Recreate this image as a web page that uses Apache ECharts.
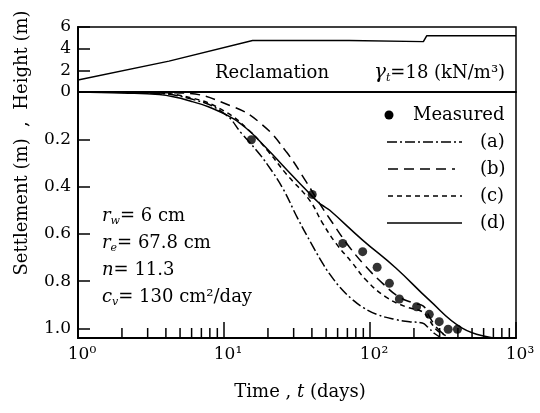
<!DOCTYPE html>
<html>
<head>
<meta charset="utf-8">
<script src="https://cdn.jsdelivr.net/npm/echarts@6/dist/echarts.min.js"></script>
<style>
  html, body { margin: 0; padding: 0; background: #fff; }
  #chart { width: 540px; height: 413px; }
</style>
</head>
<body>
<div id="chart"></div>
<script>
const FONT = "DejaVu Serif";

// top panel: fill height (m)
const heightT = [1, 4.2, 15.7, 72, 232, 245, 1000];
const heightH = [1.1, 2.85, 4.75, 4.75, 4.65, 5.2, 5.2];

// measured settlement (m)
const measuredT = [15.4, 40.2, 65.1, 89.1, 111.9, 135.8, 158.9, 208.5, 254.7, 298, 343, 397];
const measuredS = [0.202, 0.433, 0.64, 0.675, 0.741, 0.809, 0.875, 0.908, 0.94, 0.971, 1.003, 1.003];

// computed curves
const aT = [1, 3, 6, 10, 13.4, 16.6, 20, 25.2, 31.9, 40, 48, 56, 65, 76, 90, 111, 150, 186, 228, 250, 275, 300];
const aS = [0, 0.004, 0.03, 0.09, 0.18, 0.245, 0.31, 0.406, 0.533, 0.645, 0.73, 0.79, 0.838, 0.878, 0.912, 0.94, 0.962, 0.971, 0.977, 0.995, 1.02, 1.035];
const bT = [1, 5, 11.5, 18.4, 26.8, 36.6, 45, 55.6, 72, 94, 122, 158, 200, 232, 255, 290, 330];
const bS = [0, 0.004, 0.062, 0.14, 0.254, 0.38, 0.47, 0.555, 0.654, 0.739, 0.809, 0.866, 0.893, 0.905, 0.95, 1.0, 1.03];
const cT = [1, 3, 6, 10, 15, 20, 27, 38.5, 47.4, 58.5, 76, 94, 128, 176, 230, 255, 285, 330];
const cS = [0, 0.003, 0.025, 0.08, 0.165, 0.25, 0.35, 0.457, 0.555, 0.64, 0.724, 0.795, 0.866, 0.908, 0.93, 0.965, 1.005, 1.03];
const dT = [1, 2, 3.6, 6, 9.8, 14, 19.5, 27, 36, 44, 48.7, 52.8, 89, 151, 255, 428, 700];
const dS = [0, 0.004, 0.011, 0.04, 0.089, 0.15, 0.237, 0.33, 0.41, 0.465, 0.485, 0.499, 0.626, 0.745, 0.88, 0.998, 1.04];

// axis ticks
const heightTicks = [0, 2, 4, 6];
const settleTicks = [0, 0.2, 0.4, 0.6, 0.8, 1.0];
const minorTicks = [2, 3, 4, 5, 6, 7, 8, 9, 20, 30, 40, 50, 60, 70, 80, 90, 200, 300, 400, 500, 600, 700, 800, 900];
const SUP = ["⁰", "¹", "²", "³"];
const SETTLE_MAX = 1.04;

const pairs = (xs, ys) => xs.map((x, i) => [x, ys[i]]);

const curve = (name, xs, ys, dash) => ({
  name: name,
  type: "line",
  xAxisIndex: 1,
  yAxisIndex: 1,
  data: pairs(xs, ys),
  showSymbol: false,
  smooth: 0.45,
  lineStyle: { color: "#000", width: 1.5, type: dash },
  z: 3,
});

const chart = echarts.init(document.getElementById("chart"));

const option = {
  animation: false,
  backgroundColor: "#fff",
  textStyle: { fontFamily: FONT, color: "#000" },
  grid: [
    { left: 78, top: 27, width: 438, height: 65, show: true, borderColor: "#000", borderWidth: 1.5 },
    { left: 78, top: 92, width: 438, height: 246, show: true, borderColor: "#000", borderWidth: 1.5 },
  ],
  xAxis: [
    {
      gridIndex: 0, type: "log", logBase: 10, min: 1, max: 1000,
      axisLine: { onZero: false, lineStyle: { color: "#000", width: 1.5 } },
      axisTick: { show: false }, axisLabel: { show: false }, splitLine: { show: false },
    },
    {
      gridIndex: 1, type: "log", logBase: 10, min: 1, max: 1000,
      axisLine: { onZero: false, lineStyle: { color: "#000", width: 2 } },
      axisTick: { inside: true, length: 16, lineStyle: { color: "#000", width: 1.5 } },
      axisLabel: {
        color: "#000", fontFamily: FONT, fontSize: 17, margin: 8,
        padding: [0, 0, 0, 8],
        formatter: (v) => "10" + SUP[Math.round(Math.log10(v))],
      },
      splitLine: { show: false },
    },
  ],
  yAxis: [
    {
      gridIndex: 0, type: "value", min: heightTicks[0], max: heightTicks[heightTicks.length - 1], interval: 2,
      axisLine: { onZero: false, lineStyle: { color: "#000", width: 2 } },
      axisTick: { inside: true, length: 12, lineStyle: { color: "#000", width: 1.5 } },
      axisLabel: { color: "#000", fontFamily: FONT, fontSize: 17, margin: 7, showMinLabel: false },
      splitLine: { show: false },
    },
    {
      gridIndex: 1, type: "value", inverse: true, min: settleTicks[0], max: SETTLE_MAX, interval: 0.2,
      axisLine: { onZero: false, lineStyle: { color: "#000", width: 2 } },
      axisTick: { inside: true, length: 12, lineStyle: { color: "#000", width: 1.5 } },
      axisLabel: {
        color: "#000", fontFamily: FONT, fontSize: 17, margin: 7, showMaxLabel: false,
        formatter: (v) => (settleTicks.some((t) => Math.abs(t - v) < 1e-6) ? (v === 0 ? "0" : v.toFixed(1)) : ""),
      },
      splitLine: { show: false },
    },
  ],
  series: [
    {
      name: "Height",
      type: "line",
      xAxisIndex: 0,
      yAxisIndex: 0,
      data: pairs(heightT, heightH),
      showSymbol: false,
      lineStyle: { color: "#000", width: 1.5 },
    },
    curve("(a)", aT, aS, [10, 3, 2, 3]),
    curve("(b)", bT, bS, [10, 6]),
    curve("(c)", cT, cS, [5, 4]),
    curve("(d)", dT, dS, "solid"),
    {
      name: "Measured",
      type: "scatter",
      xAxisIndex: 1,
      yAxisIndex: 1,
      data: pairs(measuredT, measuredS),
      symbol: "circle",
      symbolSize: 9,
      itemStyle: { color: "#000" },
      z: 5,
    },
    {
      name: "minor ticks",
      type: "custom",
      xAxisIndex: 1,
      yAxisIndex: 1,
      data: minorTicks.map((v) => [v, SETTLE_MAX]),
      renderItem: (params, api) => {
        const p = api.coord([api.value(0), api.value(1)]);
        return {
          type: "line",
          shape: { x1: p[0], y1: p[1], x2: p[0], y2: p[1] - 10 },
          style: { stroke: "#000", lineWidth: 1.5 },
        };
      },
      silent: true,
    },
  ],
  graphic: [
    {
      type: "text", x: 22, y: 143, rotation: Math.PI / 2,
      style: { text: "Settlement (m)  ,  Height (m)", fontFamily: FONT, fontSize: 18, fill: "#000", align: "center", verticalAlign: "middle" },
    },
    {
      type: "text", x: 300, y: 392,
      style: {
        text: "{n|Time , }{i|t}{n| (days)}",
        align: "center", verticalAlign: "middle",
        rich: {
          n: { fontFamily: FONT, fontSize: 18, fill: "#000" },
          i: { fontFamily: FONT, fontSize: 18, fontStyle: "italic", fill: "#000" },
        },
      },
    },
    {
      type: "text", x: 272, y: 73,
      style: { text: "Reclamation", fontFamily: FONT, fontSize: 18, fill: "#000", align: "center", verticalAlign: "middle" },
    },
    {
      type: "text", x: 374, y: 73,
      style: {
        text: "{g|γ}{s|t}{n|=18 (kN/m³)}",
        align: "left", verticalAlign: "middle",
        rich: {
          g: { fontFamily: FONT, fontSize: 20, fontStyle: "italic", fill: "#000", lineHeight: 22 },
          s: { fontFamily: FONT, fontSize: 11, fontStyle: "italic", fill: "#000", lineHeight: 11, verticalAlign: "bottom" },
          n: { fontFamily: FONT, fontSize: 18, fill: "#000", lineHeight: 22 },
        },
      },
    },
    // parameters
    {
      type: "text", x: 102, y: 216,
      style: {
        text: "{i|r}{s|w}{n|= 6 cm}", verticalAlign: "middle",
        rich: {
          i: { fontFamily: FONT, fontSize: 18, fontStyle: "italic", fill: "#000", lineHeight: 22 },
          s: { fontFamily: FONT, fontSize: 11, fontStyle: "italic", fill: "#000", lineHeight: 11, verticalAlign: "bottom" },
          n: { fontFamily: FONT, fontSize: 18, fill: "#000", lineHeight: 22 },
        },
      },
    },
    {
      type: "text", x: 102, y: 243,
      style: {
        text: "{i|r}{s|e}{n|= 67.8 cm}", verticalAlign: "middle",
        rich: {
          i: { fontFamily: FONT, fontSize: 18, fontStyle: "italic", fill: "#000", lineHeight: 22 },
          s: { fontFamily: FONT, fontSize: 11, fontStyle: "italic", fill: "#000", lineHeight: 11, verticalAlign: "bottom" },
          n: { fontFamily: FONT, fontSize: 18, fill: "#000", lineHeight: 22 },
        },
      },
    },
    {
      type: "text", x: 102, y: 270,
      style: {
        text: "{i|n}{n|= 11.3}", verticalAlign: "middle",
        rich: {
          i: { fontFamily: FONT, fontSize: 18, fontStyle: "italic", fill: "#000", lineHeight: 22 },
          n: { fontFamily: FONT, fontSize: 18, fill: "#000", lineHeight: 22 },
        },
      },
    },
    {
      type: "text", x: 102, y: 297,
      style: {
        text: "{i|c}{s|v}{n|= 130 cm²/day}", verticalAlign: "middle",
        rich: {
          i: { fontFamily: FONT, fontSize: 18, fontStyle: "italic", fill: "#000", lineHeight: 22 },
          s: { fontFamily: FONT, fontSize: 11, fontStyle: "italic", fill: "#000", lineHeight: 11, verticalAlign: "bottom" },
          n: { fontFamily: FONT, fontSize: 18, fill: "#000", lineHeight: 22 },
        },
      },
    },
    // legend
    { type: "circle", shape: { cx: 389, cy: 115, r: 4.5 }, style: { fill: "#000" } },
    { type: "text", x: 413, y: 115, style: { text: "Measured", fontFamily: FONT, fontSize: 18, fill: "#000", verticalAlign: "middle" } },
    { type: "line", shape: { x1: 387, y1: 142, x2: 462, y2: 142 }, style: { stroke: "#000", lineWidth: 1.5, lineDash: [10, 3, 2, 3] } },
    { type: "text", x: 480, y: 142, style: { text: "(a)", fontFamily: FONT, fontSize: 18, fill: "#000", verticalAlign: "middle" } },
    { type: "line", shape: { x1: 388, y1: 169, x2: 455, y2: 169 }, style: { stroke: "#000", lineWidth: 1.5, lineDash: [10, 6] } },
    { type: "text", x: 480, y: 169, style: { text: "(b)", fontFamily: FONT, fontSize: 18, fill: "#000", verticalAlign: "middle" } },
    { type: "line", shape: { x1: 388, y1: 196, x2: 462, y2: 196 }, style: { stroke: "#000", lineWidth: 1.5, lineDash: [5, 4] } },
    { type: "text", x: 480, y: 196, style: { text: "(c)", fontFamily: FONT, fontSize: 18, fill: "#000", verticalAlign: "middle" } },
    { type: "line", shape: { x1: 387, y1: 223, x2: 462, y2: 223 }, style: { stroke: "#000", lineWidth: 1.5 } },
    { type: "text", x: 480, y: 223, style: { text: "(d)", fontFamily: FONT, fontSize: 18, fill: "#000", verticalAlign: "middle" } },
  ],
};

chart.setOption(option);
window.addEventListener("resize", () => {
  chart.resize();
});
</script>
</body>
</html>
